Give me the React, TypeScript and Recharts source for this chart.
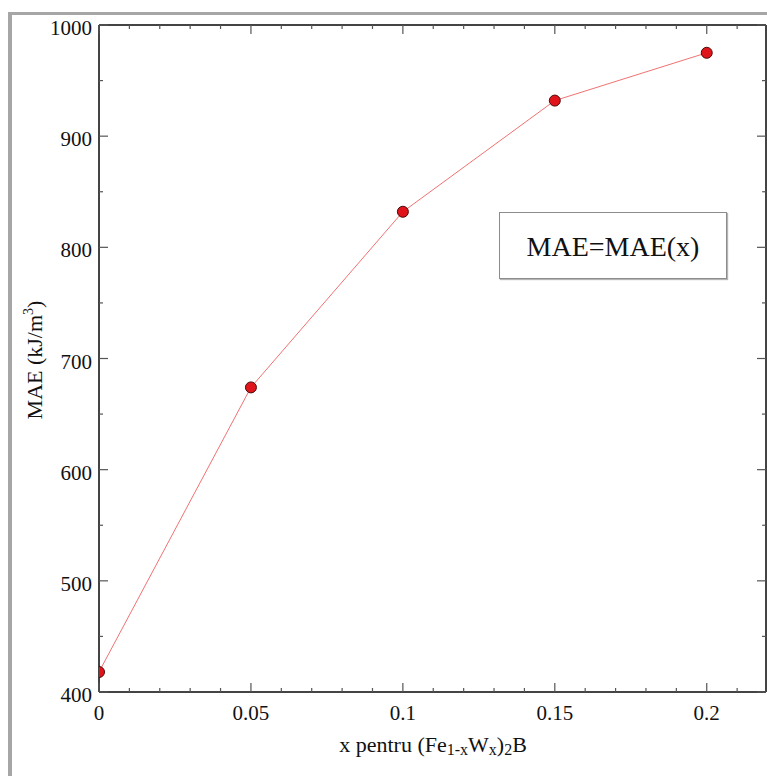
import React from 'react';
import { LineChart, Line, XAxis, YAxis, ReferenceLine, Label } from 'recharts';

// MAE vs x for (Fe1-xWx)2B
const xValues = [0, 0.05, 0.1, 0.15, 0.2];
const maeValues = [418, 674, 832, 932, 975];

const xMajorTicks = [0, 0.05, 0.1, 0.15, 0.2];
const xMinorTicks = [0.01, 0.02, 0.03, 0.04, 0.06, 0.07, 0.08, 0.09, 0.11, 0.12, 0.13, 0.14, 0.16, 0.17, 0.18, 0.19, 0.21];
const yMajorTicks = [400, 500, 600, 700, 800, 900, 1000];
const yMinorTicks = [450, 550, 650, 750, 850, 950];

const xDomain: [number, number] = [0, 0.2195];
const yDomain: [number, number] = [400, 1000];

const data = xValues.map((x, i) => ({ x, mae: maeValues[i] }));

const W = 767;
const H = 776;
const MARGIN = { top: 25, right: 1, bottom: 0, left: 20 };
const Y_AXIS_W = 79;
const X_AXIS_H = 84;
const PLOT_TOP = MARGIN.top;
const PLOT_RIGHT = W - MARGIN.right;
const PLOT_LEFT = MARGIN.left + Y_AXIS_W;
const PLOT_BOTTOM = H - MARGIN.bottom - X_AXIS_H;

const FONT = '"Liberation Serif", "Times New Roman", serif';
const AXIS_COLOR = '#444';
const TICK_COLOR = '#555';
const MAJOR_LEN = 9;
const MINOR_LEN = 4;

const BottomTick = (props: any) => {
    const { x, y, payload } = props;
    const major = xMajorTicks.includes(payload.value);
    const len = major ? MAJOR_LEN : MINOR_LEN;
    return (
        <g>
            <line x1={x} x2={x} y1={y} y2={y - len} stroke={TICK_COLOR} strokeWidth={1.2} />
            <line x1={x} x2={x} y1={PLOT_TOP} y2={PLOT_TOP + len} stroke={TICK_COLOR} strokeWidth={1.2} />
            {major && (
                <text x={x} y={y + 28} textAnchor="middle" fontFamily={FONT} fontSize={21} fill="#111">
                    {String(payload.value)}
                </text>
            )}
        </g>
    );
};

const LeftTick = (props: any) => {
    const { x, y, payload } = props;
    const major = yMajorTicks.includes(payload.value);
    const len = major ? MAJOR_LEN : MINOR_LEN;
    return (
        <g>
            <line x1={x} x2={x + len} y1={y} y2={y} stroke={TICK_COLOR} strokeWidth={1.2} />
            <line x1={PLOT_RIGHT} x2={PLOT_RIGHT - len} y1={y} y2={y} stroke={TICK_COLOR} strokeWidth={1.2} />
            {major && (
                <text x={x - 7} y={y + 10} textAnchor="end" fontFamily={FONT} fontSize={21} fill="#111">
                    {String(payload.value)}
                </text>
            )}
        </g>
    );
};

// dots are cut at the plot frame, like the first point on the y axis
const ClippedDot = (props: any) => {
    const { cx, cy, index } = props;
    const id = `dot-clip-${index}`;
    return (
        <g key={id}>
            <defs>
                <clipPath id={id}>
                    <rect x={PLOT_LEFT} y={PLOT_TOP} width={PLOT_RIGHT - PLOT_LEFT} height={PLOT_BOTTOM - PLOT_TOP} />
                </clipPath>
            </defs>
            <circle cx={cx} cy={cy} r={5.5} fill="#e0151b" stroke="#4a0a0a" strokeWidth={1} clipPath={`url(#${id})`} />
        </g>
    );
};

const XTitle = () => (
    <text x={433} y={752} textAnchor="middle" fontFamily={FONT} fontSize={22} fill="#111">
        x pentru (Fe
        <tspan fontSize={16} dy={3}>1-x</tspan>
        <tspan dy={-3}>W</tspan>
        <tspan fontSize={16} dy={3}>x</tspan>
        <tspan dy={-3}>)</tspan>
        <tspan fontSize={16} dy={3}>2</tspan>
        <tspan dy={-3}>B</tspan>
    </text>
);

const YTitle = () => (
    <text transform="translate(42,360) rotate(-90)" textAnchor="middle" fontFamily={FONT} fontSize={22} fill="#111">
        MAE (kJ/m
        <tspan fontSize={14} dy={-9}>3</tspan>
        <tspan dy={9}>)</tspan>
    </text>
);

export default function App() {
    return (
        <div style={{ position: 'absolute', left: 0, top: 0, width: W, height: H, overflow: 'hidden', background: '#fff' }}>
            {/* grey window frame */}
            <div style={{ position: 'absolute', left: 8, top: 12, width: W, height: H, borderLeft: '4px solid #a6a6a6', borderTop: '3px solid #a6a6a6' }} />

            <LineChart width={W} height={H} data={data} margin={MARGIN} style={{ position: 'absolute', left: 0, top: 0 }}>
                <XAxis
                    dataKey="x"
                    type="number"
                    domain={xDomain}
                    ticks={[...xMajorTicks, ...xMinorTicks].sort((a, b) => a - b)}
                    interval={0}
                    allowDataOverflow
                    height={X_AXIS_H}
                    tickSize={0}
                    tickMargin={0}
                    tickLine={false}
                    tick={<BottomTick />}
                    axisLine={{ stroke: AXIS_COLOR, strokeWidth: 2 }}
                >
                    <Label content={<XTitle />} />
                </XAxis>
                <YAxis
                    type="number"
                    domain={yDomain}
                    ticks={[...yMajorTicks, ...yMinorTicks].sort((a, b) => a - b)}
                    interval={0}
                    allowDataOverflow
                    width={Y_AXIS_W}
                    tickSize={0}
                    tickMargin={0}
                    tickLine={false}
                    tick={<LeftTick />}
                    axisLine={{ stroke: AXIS_COLOR, strokeWidth: 2 }}
                >
                    <Label content={<YTitle />} />
                </YAxis>
                <ReferenceLine y={yDomain[1]} stroke={AXIS_COLOR} strokeWidth={2} />
                <ReferenceLine x={xDomain[1]} stroke={AXIS_COLOR} strokeWidth={2} />
                <Line
                    type="linear"
                    dataKey="mae"
                    stroke="#f07272"
                    strokeWidth={1}
                    dot={<ClippedDot />}
                    activeDot={false}
                    isAnimationActive={false}
                />
            </LineChart>

            {/* legend box */}
            <div
                style={{
                    position: 'absolute',
                    left: 499,
                    top: 212,
                    width: 226,
                    height: 63,
                    border: '1px solid #8c8c8c',
                    boxShadow: '1px 1px 1px #b5b5b5',
                    display: 'flex',
                    alignItems: 'center',
                    justifyContent: 'center',
                    fontFamily: FONT,
                    fontSize: 28,
                    color: '#111',
                    background: '#fff',
                    paddingTop: 2,
                    boxSizing: 'content-box',
                }}
            >
                MAE=MAE(x)
            </div>
        </div>
    );
}
